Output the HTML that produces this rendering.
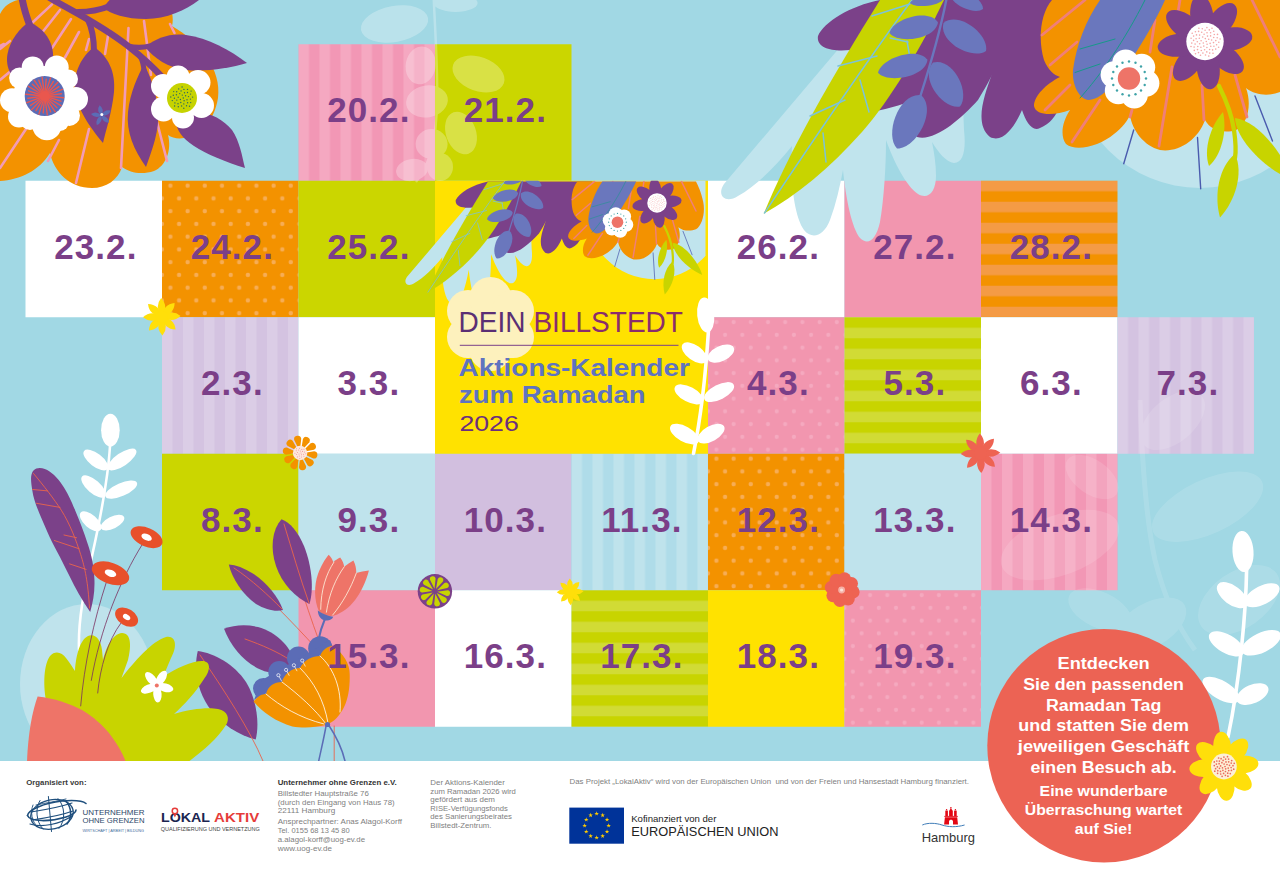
<!DOCTYPE html>
<html lang="de">
<head>
<meta charset="utf-8">
<title>Dein Billstedt – Aktions-Kalender zum Ramadan 2026</title>
<style>
html,body{margin:0;padding:0;background:#a1d8e4;}
body{width:1280px;height:871px;overflow:hidden;font-family:"Liberation Sans",sans-serif;}
svg{display:block;position:absolute;left:0;top:0;}
svg text{font-family:"Liberation Sans",sans-serif;}
.date text{font-weight:700;font-size:35px;fill:#7b3f88;letter-spacing:1.1px;}
</style>
</head>
<body>
<svg width="1280" height="871" viewBox="0 0 1280 871">
<defs>
<pattern id="pPinkV" width="21" height="21" patternUnits="userSpaceOnUse">
 <rect width="21" height="21" fill="#f5a8c1"/><rect x="10.5" width="10.5" height="21" fill="#f297b5"/>
</pattern>
<pattern id="pLilV" width="21" height="21" patternUnits="userSpaceOnUse">
 <rect width="21" height="21" fill="#dbcde6"/><rect x="10.5" width="10.5" height="21" fill="#d4c3e1"/>
</pattern>
<pattern id="pBlueV" width="21" height="21" patternUnits="userSpaceOnUse">
 <rect width="21" height="21" fill="#bfe3ec"/><rect x="10.5" width="10.5" height="21" fill="#afdce9"/>
</pattern>
<pattern id="pOrH" width="21" height="21" patternUnits="userSpaceOnUse">
 <rect width="21" height="21" fill="#f49b45"/><rect y="10.5" width="21" height="10.5" fill="#f39200"/>
</pattern>
<pattern id="pGrH" width="21" height="21" patternUnits="userSpaceOnUse">
 <rect width="21" height="21" fill="#c8d400"/><rect y="10.5" width="21" height="10.5" fill="#d1db35"/>
</pattern>
<pattern id="pOrDot" width="17.2" height="25.5" patternUnits="userSpaceOnUse">
 <rect width="17.2" height="25.5" fill="#f39200"/>
 <circle cx="8.4" cy="4.9" r="2.2" fill="#f7ad55"/><circle cx="17.1" cy="17.65" r="2.2" fill="#f7ad55"/><circle cx="-0.1" cy="17.6" r="2.2" fill="#f7ad55"/>
</pattern>
<pattern id="pPinkDot" width="17.2" height="25.5" patternUnits="userSpaceOnUse">
 <rect width="17.2" height="25.5" fill="#f296af"/>
 <circle cx="8.4" cy="4.9" r="2.1" fill="#f5a9bf"/><circle cx="17.1" cy="17.65" r="2.1" fill="#f5a9bf"/><circle cx="-0.1" cy="17.6" r="2.1" fill="#f5a9bf"/>
</pattern>
</defs>
<rect width="1280" height="871" fill="#a1d8e4"/>
<g id="cells">
<g transform="translate(298.50 44.25)"><rect width="136.5" height="136.5" fill="url(#pPinkV)"/></g>
<rect x="435.00" y="44.25" width="136.5" height="136.5" fill="#cbd600"/>
<rect x="25.50" y="180.75" width="136.5" height="136.5" fill="#ffffff"/>
<g transform="translate(162.00 180.75)"><rect width="136.5" height="136.5" fill="url(#pOrDot)"/></g>
<rect x="298.50" y="180.75" width="136.5" height="136.5" fill="#cbd600"/>
<rect x="708.00" y="180.75" width="136.5" height="136.5" fill="#ffffff"/>
<rect x="844.50" y="180.75" width="136.5" height="136.5" fill="#f296af"/>
<g transform="translate(981.00 180.75)"><rect width="136.5" height="136.5" fill="url(#pOrH)"/></g>
<g transform="translate(162.00 317.25)"><rect width="136.5" height="136.5" fill="url(#pLilV)"/></g>
<rect x="298.50" y="317.25" width="136.5" height="136.5" fill="#ffffff"/>
<g transform="translate(708.00 317.25)"><rect width="136.5" height="136.5" fill="url(#pPinkDot)"/></g>
<g transform="translate(844.50 317.25)"><rect width="136.5" height="136.5" fill="url(#pGrH)"/></g>
<rect x="981.00" y="317.25" width="136.5" height="136.5" fill="#ffffff"/>
<g transform="translate(1117.50 317.25)"><rect width="136.5" height="136.5" fill="url(#pLilV)"/></g>
<rect x="162.00" y="453.75" width="136.5" height="136.5" fill="#cbd600"/>
<rect x="298.50" y="453.75" width="136.5" height="136.5" fill="#bfe3ec"/>
<rect x="435.00" y="453.75" width="136.5" height="136.5" fill="#d2bfdf"/>
<g transform="translate(571.50 453.75)"><rect width="136.5" height="136.5" fill="url(#pBlueV)"/></g>
<g transform="translate(708.00 453.75)"><rect width="136.5" height="136.5" fill="url(#pOrDot)"/></g>
<rect x="844.50" y="453.75" width="136.5" height="136.5" fill="#bfe3ec"/>
<g transform="translate(981.00 453.75)"><rect width="136.5" height="136.5" fill="url(#pPinkV)"/></g>
<rect x="298.50" y="590.25" width="136.5" height="136.5" fill="#f296af"/>
<rect x="435.00" y="590.25" width="136.5" height="136.5" fill="#ffffff"/>
<g transform="translate(571.50 590.25)"><rect width="136.5" height="136.5" fill="url(#pGrH)"/></g>
<rect x="708.00" y="590.25" width="136.5" height="136.5" fill="#ffe200"/>
<g transform="translate(844.50 590.25)"><rect width="136.5" height="136.5" fill="url(#pPinkDot)"/></g>
<rect x="435.00" y="180.75" width="273.0" height="273.0" fill="#ffe200"/>
</g>
<g id="bgleaves" fill="#fff" opacity="0.12">
<ellipse cx="1172.7" cy="420.4" rx="38" ry="22" transform="rotate(-40 1172.7 420.4)"/>
<ellipse cx="1092" cy="477" rx="30" ry="17" transform="rotate(35 1092 477)"/>
<ellipse cx="1207.6" cy="506.8" rx="60" ry="27" transform="rotate(-25 1207.6 506.8)"/>
<ellipse cx="1060" cy="545" rx="62" ry="30" transform="rotate(-20 1060 545)"/>
<ellipse cx="1239" cy="600" rx="46" ry="28" transform="rotate(-35 1239 600)"/>
<ellipse cx="1150" cy="625" rx="40" ry="22" transform="rotate(-30 1150 625)"/>
<ellipse cx="1100" cy="610" rx="34" ry="18" transform="rotate(25 1100 610)"/>
<path d="M1140 400C1142 460 1146 520 1155 560C1165 600 1180 630 1195 650" fill="none" stroke="#fff" stroke-width="5"/>
</g>
<g id="bgtop" fill="#fff" opacity="0.27">
<path d="M433.8 0C436 50 440 100 434 140C430 160 424 172 416 182" fill="none" stroke="#fff" stroke-width="2.5"/>
<ellipse cx="394.5" cy="24" rx="34" ry="18" transform="rotate(-10 394.5 24)"/>
<ellipse cx="455.6" cy="3" rx="22" ry="9" transform="rotate(0 455.6 3)"/>
<ellipse cx="478.5" cy="74" rx="27" ry="17" transform="rotate(20 478.5 74)"/>
<ellipse cx="420.7" cy="65.4" rx="15" ry="19" transform="rotate(10 420.7 65.4)"/>
<ellipse cx="427" cy="101.4" rx="21" ry="16" transform="rotate(-10 427 101.4)"/>
<ellipse cx="461" cy="133" rx="15" ry="22" transform="rotate(-20 461 133)"/>
<ellipse cx="431.6" cy="144" rx="16" ry="15" transform="rotate(0 431.6 144)"/>
<ellipse cx="412" cy="170" rx="16" ry="11" transform="rotate(-10 412 170)"/>
<ellipse cx="440" cy="167" rx="13" ry="14" transform="rotate(0 440 167)"/>
</g>
<g id="flora-tl">
<path d="M0 14C4 6 10 2 18 0L166 0C172 8 174 18 172 26C200 42 222 70 218 98C214 122 200 136 184 138C178 139 172 138 168 135C172 150 166 166 154 171C142 175 130 173 122 167C118 180 106 188 92 188C70 188 54 172 50 153C40 170 20 180 0 181Z" fill="#f39200" />
<line x1="32.5" y1="22.5" x2="52.0" y2="4.4" stroke="#f29bb6" stroke-width="2.6" stroke-linecap="round" />
<line x1="41.0" y1="34.0" x2="60.0" y2="10.0" stroke="#f29bb6" stroke-width="2.6" stroke-linecap="round" />
<line x1="52.0" y1="48.0" x2="71.0" y2="19.0" stroke="#f29bb6" stroke-width="2.6" stroke-linecap="round" />
<line x1="65.0" y1="57.5" x2="79.0" y2="32.0" stroke="#f29bb6" stroke-width="2.6" stroke-linecap="round" />
<line x1="0.0" y1="49.0" x2="10.0" y2="41.0" stroke="#f29bb6" stroke-width="2.6" stroke-linecap="round" />
<line x1="0.0" y1="80.0" x2="12.0" y2="70.0" stroke="#f29bb6" stroke-width="2.6" stroke-linecap="round" />
<line x1="86.0" y1="50.0" x2="89.0" y2="39.0" stroke="#f29bb6" stroke-width="2.6" stroke-linecap="round" />
<line x1="105.0" y1="54.0" x2="109.0" y2="30.0" stroke="#f29bb6" stroke-width="2.6" stroke-linecap="round" />
<line x1="128.5" y1="28.0" x2="121.0" y2="168.0" stroke="#f29bb6" stroke-width="2.6" stroke-linecap="round" />
<line x1="144.0" y1="21.0" x2="151.0" y2="75.0" stroke="#f29bb6" stroke-width="2.6" stroke-linecap="round" />
<line x1="157.0" y1="122.0" x2="167.0" y2="161.0" stroke="#f29bb6" stroke-width="2.6" stroke-linecap="round" />
<line x1="0.0" y1="168.0" x2="28.0" y2="126.0" stroke="#f29bb6" stroke-width="2.6" stroke-linecap="round" />
<line x1="48.0" y1="161.0" x2="59.0" y2="140.0" stroke="#f29bb6" stroke-width="2.6" stroke-linecap="round" />
<line x1="76.0" y1="183.0" x2="89.0" y2="129.0" stroke="#f29bb6" stroke-width="2.6" stroke-linecap="round" />
<line x1="170.0" y1="24.0" x2="174.5" y2="33.0" stroke="#f29bb6" stroke-width="2.6" stroke-linecap="round" />
<line x1="0.0" y1="46.0" x2="4.0" y2="44.0" stroke="#f29bb6" stroke-width="2.6" stroke-linecap="round" />
<path d="M22 -2C24 10 27 18 30 26" fill="none" stroke="#7b4189" stroke-width="7" stroke-linecap="round" stroke-linejoin="round" />
<path d="M50 -2C70 10 100 24 128 46C142 57 154 68 163 78" fill="none" stroke="#7b4189" stroke-width="6.5" stroke-linecap="round" stroke-linejoin="round" />
<path d="M78 12C90 12 100 10 110 6" fill="none" stroke="#7b4189" stroke-width="6" stroke-linecap="round" stroke-linejoin="round" />
<path d="M88 20C93 30 94 40 94 52" fill="none" stroke="#7b4189" stroke-width="6" stroke-linecap="round" stroke-linejoin="round" />
<path d="M128 46C136 48 142 48 150 46" fill="none" stroke="#7b4189" stroke-width="5" stroke-linecap="round" stroke-linejoin="round" />
<path d="M140 56C143 62 144 66 144 72" fill="none" stroke="#7b4189" stroke-width="5" stroke-linecap="round" stroke-linejoin="round" />
<path d="M29 22C44 28 54 42 53 58C52 72 40 82 26 82C12 82 5 68 7.5 54C10 40 20 28 29 22Z" fill="#7b4189" />
<path d="M94 47C108 56 116 72 114 92C112 112 106 130 103 143C94 132 78 112 75 92C73 72 82 56 94 47Z" fill="#7b4189" />
<path d="M144 64C150 76 156 90 158 110C160 130 152 150 146 167C134 150 126 132 128 112C130 92 138 76 144 64Z" fill="#7b4189" />
<path d="M104 8C108 -4 130 -14 160 -14C176 -14 190 -8 199 0C186 10 166 19 146 19C126 19 110 14 104 8Z" fill="#7b4189" />
<path d="M145 47C156 38 170 33 186 35C208 38 230 50 247 63C230 68 206 72 186 70C168 68 154 58 145 47Z" fill="#7b4189" />
<path d="M176 120C196 104 220 116 232 130C240 142 242 156 245 168C226 162 206 154 194 146C182 138 176 130 176 120Z" fill="#7b4189" />
<g fill="#fff"><circle cx="44" cy="97" r="31"/><circle cx="32.7" cy="67.4" r="11"/><circle cx="56.7" cy="67.4" r="12"/><circle cx="68.5" cy="79" r="9.5"/><circle cx="76" cy="99.1" r="12"/><circle cx="69.5" cy="115.4" r="10.5"/><circle cx="46.9" cy="125.8" r="14.5"/><circle cx="19" cy="116.5" r="11"/><circle cx="12" cy="100.2" r="12"/><circle cx="19.6" cy="78" r="10.5"/><circle cx="30" cy="120" r="10"/><circle cx="60" cy="122" r="9"/></g>
<circle cx="44.7" cy="96" r="20" fill="#5b6cb6"/>
<g stroke="#e9574e" stroke-width="1.4" stroke-linecap="round"><line x1="44.7" y1="96" x2="63.6" y2="97.7"/><line x1="44.7" y1="96" x2="60.9" y2="101.2"/><line x1="44.7" y1="96" x2="61.0" y2="105.7"/><line x1="44.7" y1="96" x2="57.0" y2="107.7"/><line x1="44.7" y1="96" x2="55.2" y2="111.8"/><line x1="44.7" y1="96" x2="50.7" y2="111.9"/><line x1="44.7" y1="96" x2="47.3" y2="114.8"/><line x1="44.7" y1="96" x2="43.2" y2="112.9"/><line x1="44.7" y1="96" x2="38.9" y2="114.1"/><line x1="44.7" y1="96" x2="36.0" y2="110.6"/><line x1="44.7" y1="96" x2="31.6" y2="109.8"/><line x1="44.7" y1="96" x2="30.5" y2="105.4"/><line x1="44.7" y1="96" x2="26.9" y2="102.7"/><line x1="44.7" y1="96" x2="27.9" y2="98.3"/><line x1="44.7" y1="96" x2="25.8" y2="94.3"/><line x1="44.7" y1="96" x2="28.5" y2="90.8"/><line x1="44.7" y1="96" x2="28.4" y2="86.3"/><line x1="44.7" y1="96" x2="32.4" y2="84.3"/><line x1="44.7" y1="96" x2="34.2" y2="80.2"/><line x1="44.7" y1="96" x2="38.7" y2="80.1"/><line x1="44.7" y1="96" x2="42.1" y2="77.2"/><line x1="44.7" y1="96" x2="46.2" y2="79.1"/><line x1="44.7" y1="96" x2="50.5" y2="77.9"/><line x1="44.7" y1="96" x2="53.4" y2="81.4"/><line x1="44.7" y1="96" x2="57.8" y2="82.2"/><line x1="44.7" y1="96" x2="58.9" y2="86.6"/><line x1="44.7" y1="96" x2="62.5" y2="89.3"/><line x1="44.7" y1="96" x2="61.5" y2="93.7"/></g>
<circle cx="44.7" cy="96" r="5" fill="#e9574e"/>
<g fill="#fff"><circle cx="182" cy="97.5" r="21"/><circle cx="178.1" cy="77" r="11.5"/><circle cx="198" cy="82.5" r="12.5"/><circle cx="201.5" cy="105.5" r="12.5"/><circle cx="183" cy="117.5" r="11"/><circle cx="163.5" cy="109" r="12.5"/><circle cx="163" cy="86" r="12"/></g>
<circle cx="182" cy="98" r="15" fill="#c6d300"/>
<g fill="#2f6b5e"><circle cx="183.3" cy="98.0" r="0.7"/><circle cx="180.4" cy="99.5" r="0.7"/><circle cx="182.3" cy="95.1" r="0.7"/><circle cx="184.1" cy="100.7" r="0.7"/><circle cx="178.2" cy="97.3" r="0.7"/><circle cx="185.6" cy="95.7" r="0.7"/><circle cx="180.8" cy="102.5" r="0.7"/><circle cx="179.7" cy="93.6" r="0.7"/><circle cx="187.0" cy="99.8" r="0.7"/><circle cx="176.8" cy="100.1" r="0.7"/><circle cx="184.5" cy="92.7" r="0.7"/><circle cx="183.8" cy="103.9" r="0.7"/><circle cx="176.4" cy="94.8" r="0.7"/><circle cx="188.5" cy="96.6" r="0.7"/><circle cx="178.0" cy="103.7" r="0.7"/><circle cx="181.1" cy="90.9" r="0.7"/><circle cx="187.6" cy="102.8" r="0.7"/><circle cx="174.4" cy="98.3" r="0.7"/><circle cx="187.5" cy="92.5" r="0.7"/><circle cx="181.6" cy="106.0" r="0.7"/><circle cx="176.7" cy="91.7" r="0.7"/><circle cx="190.4" cy="99.1" r="0.7"/><circle cx="174.9" cy="102.9" r="0.7"/><circle cx="183.9" cy="89.4" r="0.7"/><circle cx="186.5" cy="105.8" r="0.7"/><circle cx="173.3" cy="95.2" r="0.7"/><circle cx="190.5" cy="94.1" r="0.7"/><circle cx="178.3" cy="106.8" r="0.7"/><circle cx="178.7" cy="88.9" r="0.7"/><circle cx="190.7" cy="102.6" r="0.7"/><circle cx="172.3" cy="100.6" r="0.7"/><circle cx="187.5" cy="89.4" r="0.7"/><circle cx="183.8" cy="108.2" r="0.7"/><circle cx="173.7" cy="91.6" r="0.7"/><circle cx="192.6" cy="97.1" r="0.7"/><circle cx="174.6" cy="106.0" r="0.7"/><circle cx="182.1" cy="87.0" r="0.7"/><circle cx="189.5" cy="106.2" r="0.7"/><circle cx="170.8" cy="97.0" r="0.7"/><circle cx="191.1" cy="91.1" r="0.7"/></g>
<g fill="#5b6cb6" ><path d="M101.4 115.5Q107.2 111.0 111.9 115.5Q107.2 120.0 101.4 115.5Z" transform="rotate(-100.0 101.4 115.5)"/><path d="M101.4 115.5Q107.2 111.0 111.9 115.5Q107.2 120.0 101.4 115.5Z" transform="rotate(-28.0 101.4 115.5)"/><path d="M101.4 115.5Q107.2 111.0 111.9 115.5Q107.2 120.0 101.4 115.5Z" transform="rotate(44.0 101.4 115.5)"/><path d="M101.4 115.5Q107.2 111.0 111.9 115.5Q107.2 120.0 101.4 115.5Z" transform="rotate(116.0 101.4 115.5)"/><path d="M101.4 115.5Q107.2 111.0 111.9 115.5Q107.2 120.0 101.4 115.5Z" transform="rotate(188.0 101.4 115.5)"/></g>
<circle cx="101.8" cy="114.5" r="1.5" fill="#fff"/>
</g>
<g id="trart">
<path d="M846 40L724 184C716 196 726 204 738 196C756 186 776 166 792 146C790 180 794 216 804 230C812 240 824 236 830 220C836 204 840 186 843 170C846 200 852 228 860 238C868 246 876 240 880 222C884 198 886 166 886 140C894 162 906 186 918 194C928 200 936 192 936 176C936 164 934 152 932 142C938 152 946 162 954 163C964 163 966 148 964 130L960 30Z" fill="#c0e4ed" />
<circle cx="1200" cy="58" r="130" fill="#c0e4ed"/>
<path d="M880 0C850 6 824 22 818 36C816 48 832 52 850 50L872 112C890 108 908 104 920 96C912 112 908 130 917 137C934 142 960 120 978 100C984 90 990 80 992 74C984 96 974 124 990 137C1004 144 1016 124 1022 110C1026 122 1032 132 1040 128C1050 124 1056 116 1060 106L1080 0Z" fill="#7b4189" />
<path d="M763.7 213.7C790 150 830 80 880 0L944 0C920 50 890 100 862 132C830 168 796 196 763.7 213.7Z" fill="#c8d400" />
<path d="M764.5 213C800 160 860 70 912 0" fill="none" stroke="#7cc3d8" stroke-width="1.5" stroke-linecap="round" stroke-linejoin="round" />
<line x1="823.0" y1="133.0" x2="826.0" y2="162.0" stroke="#7cc3d8" stroke-width="1.5" stroke-linecap="round" />
<line x1="845.0" y1="100.0" x2="810.0" y2="116.0" stroke="#7cc3d8" stroke-width="1.5" stroke-linecap="round" />
<line x1="860.0" y1="80.0" x2="869.0" y2="112.0" stroke="#7cc3d8" stroke-width="1.5" stroke-linecap="round" />
<line x1="877.0" y1="56.0" x2="838.0" y2="66.0" stroke="#7cc3d8" stroke-width="1.5" stroke-linecap="round" />
<line x1="890.0" y1="38.0" x2="908.0" y2="42.0" stroke="#7cc3d8" stroke-width="1.5" stroke-linecap="round" />
<line x1="907.0" y1="41.0" x2="910.0" y2="58.0" stroke="#7cc3d8" stroke-width="1.5" stroke-linecap="round" />
<line x1="910.0" y1="4.0" x2="872.0" y2="16.0" stroke="#7cc3d8" stroke-width="1.5" stroke-linecap="round" />
<path d="M946.5 -1C940 32 930 66 920.7 95" fill="none" stroke="#6a77bd" stroke-width="2.4" stroke-linecap="round" stroke-linejoin="round" />
<path d="M938.0 22.3C928.7 7.7 892.5 18.9 889.5 33.0C898.1 44.5 935.7 39.5 938.0 22.3Z" fill="#6a77bd" />
<path d="M943.5 23.0C938.2 42.1 972.5 60.4 986.0 51.0C989.3 34.9 959.0 10.6 943.5 23.0Z" fill="#6a77bd" />
<path d="M927.5 59.8C917.4 45.6 880.6 58.5 878.0 72.8C887.3 83.9 925.7 77.1 927.5 59.8Z" fill="#6a77bd" />
<path d="M933.0 62.5C919.1 78.3 942.9 109.7 960.0 106.5C970.6 92.7 953.4 57.2 933.0 62.5Z" fill="#6a77bd" />
<path d="M921.0 95.0C898.5 92.6 884.1 135.0 897.0 148.5C915.7 149.2 937.7 110.2 921.0 95.0Z" fill="#6a77bd" />
<path d="M944.0 -2.0C938.8 -9.1 913.2 -3.8 910.0 3.0C915.0 8.6 941.1 6.3 944.0 -2.0Z" fill="#6a77bd" />
<path d="M950.0 -8.0C948.6 4.4 974.7 15.4 983.0 9.0C983.4 -1.4 959.3 -16.4 950.0 -8.0Z" fill="#6a77bd" />
<path d="M1052 0C1040 14 1038 40 1044 60C1048 70 1054 75 1060 77C1046 84 1034 96 1034 106C1036 116 1054 116 1070 110C1062 122 1060 136 1066 144C1076 152 1100 146 1114 134C1122 128 1128 120 1130 115C1132 130 1144 146 1160 150C1178 153 1198 140 1205 120C1210 130 1224 134 1236 130C1248 124 1252 104 1246 88C1256 96 1270 96 1280 92C1292 84 1298 60 1294 40C1290 20 1284 8 1280 0Z" fill="#f39200" />
<line x1="1085.0" y1="0.0" x2="1042.0" y2="35.0" stroke="#f07f78" stroke-width="2.8" stroke-linecap="round" />
<line x1="1077.0" y1="42.0" x2="1050.0" y2="65.0" stroke="#f07f78" stroke-width="2.8" stroke-linecap="round" />
<line x1="1070.0" y1="85.0" x2="1045.0" y2="110.0" stroke="#f07f78" stroke-width="2.8" stroke-linecap="round" />
<line x1="1100.0" y1="100.0" x2="1072.0" y2="142.0" stroke="#f07f78" stroke-width="2.8" stroke-linecap="round" />
<line x1="1132.0" y1="110.0" x2="1130.0" y2="117.0" stroke="#f07f78" stroke-width="2.8" stroke-linecap="round" />
<line x1="1172.0" y1="67.0" x2="1159.0" y2="146.0" stroke="#f07f78" stroke-width="2.8" stroke-linecap="round" />
<line x1="1202.0" y1="85.0" x2="1204.0" y2="120.0" stroke="#f07f78" stroke-width="2.8" stroke-linecap="round" />
<line x1="1155.0" y1="20.0" x2="1150.0" y2="52.0" stroke="#f07f78" stroke-width="2.8" stroke-linecap="round" />
<line x1="1235.0" y1="75.0" x2="1247.0" y2="117.0" stroke="#f07f78" stroke-width="2.8" stroke-linecap="round" />
<line x1="1252.0" y1="0.0" x2="1280.0" y2="57.0" stroke="#f07f78" stroke-width="2.8" stroke-linecap="round" />
<line x1="1120.0" y1="0.0" x2="1112.0" y2="20.0" stroke="#f07f78" stroke-width="2.8" stroke-linecap="round" />
<line x1="1180.0" y1="0.0" x2="1178.0" y2="12.0" stroke="#f07f78" stroke-width="2.8" stroke-linecap="round" />
<line x1="1133.7" y1="130.0" x2="1123.7" y2="163.7" stroke="#4a5bae" stroke-width="1.4" stroke-linecap="round" />
<line x1="1197.5" y1="137.5" x2="1200.7" y2="188.7" stroke="#4a5bae" stroke-width="1.4" stroke-linecap="round" />
<line x1="1255.0" y1="96.0" x2="1272.5" y2="141.0" stroke="#4a5bae" stroke-width="1.4" stroke-linecap="round" />
<path d="M1100 0C1086 20 1076 46 1073 70C1072 84 1078 98 1088 100C1100 100 1114 86 1130 62C1144 40 1156 20 1165 0Z" fill="#6a77bd" />
<path d="M1145 0C1125 40 1100 76 1080 98" fill="none" stroke="#17998a" stroke-width="1" stroke-linecap="round" stroke-linejoin="round" />
<line x1="1115.0" y1="39.0" x2="1080.0" y2="49.0" stroke="#17998a" stroke-width="1" stroke-linecap="round" />
<line x1="1100.0" y1="64.0" x2="1075.0" y2="72.5" stroke="#17998a" stroke-width="1" stroke-linecap="round" />
<path d="M1219 86C1226 100 1232 116 1234 130C1236 144 1236 152 1235 158" fill="none" stroke="#c8d400" stroke-width="4.3" stroke-linecap="round" stroke-linejoin="round" />
<path d="M1209.0 166.0C1221.8 154.9 1227.3 130.4 1223.0 112.0C1210.3 126.0 1203.2 150.1 1209.0 166.0Z" fill="#c8d400" />
<path d="M1235.0 118.0C1235.9 140.1 1266.0 169.6 1292.0 180.0C1283.8 153.2 1256.9 120.7 1235.0 118.0Z" fill="#c8d400" />
<path d="M1235.0 154.0C1218.6 166.9 1213.8 195.9 1220.0 217.5C1235.2 201.0 1243.9 172.9 1235.0 154.0Z" fill="#c8d400" />
<g fill="#fff" ><circle cx="1130.0" cy="79.0" r="20.0"/><circle cx="1145.9" cy="83.3" r="13.5"/><circle cx="1134.3" cy="94.9" r="13.5"/><circle cx="1118.3" cy="90.7" r="13.5"/><circle cx="1114.1" cy="74.7" r="13.5"/><circle cx="1125.7" cy="63.1" r="13.5"/><circle cx="1141.7" cy="67.3" r="13.5"/></g>
<circle cx="1129" cy="78.5" r="11.2" fill="#ee7468"/>
<g fill="#3fa3a8"><circle cx="1146.0" cy="78.5" r="1.2"/><circle cx="1144.7" cy="85.0" r="1.2"/><circle cx="1141.0" cy="90.5" r="1.2"/><circle cx="1135.5" cy="94.2" r="1.2"/><circle cx="1129.0" cy="95.5" r="1.2"/><circle cx="1122.5" cy="94.2" r="1.2"/><circle cx="1117.0" cy="90.5" r="1.2"/><circle cx="1113.3" cy="85.0" r="1.2"/><circle cx="1112.0" cy="78.5" r="1.2"/><circle cx="1113.3" cy="72.0" r="1.2"/><circle cx="1117.0" cy="66.5" r="1.2"/><circle cx="1122.5" cy="62.8" r="1.2"/><circle cx="1129.0" cy="61.5" r="1.2"/><circle cx="1135.5" cy="62.8" r="1.2"/><circle cx="1141.0" cy="66.5" r="1.2"/><circle cx="1144.7" cy="72.0" r="1.2"/></g>
<g fill="#7b4189" ><ellipse cx="1230.8" cy="42.0" rx="21.8" ry="11.5" transform="rotate(-7.0 1205.0 42.0)"/><ellipse cx="1230.8" cy="42.0" rx="21.8" ry="11.5" transform="rotate(38.0 1205.0 42.0)"/><ellipse cx="1230.8" cy="42.0" rx="21.8" ry="11.5" transform="rotate(83.0 1205.0 42.0)"/><ellipse cx="1230.8" cy="42.0" rx="21.8" ry="11.5" transform="rotate(128.0 1205.0 42.0)"/><ellipse cx="1230.8" cy="42.0" rx="21.8" ry="11.5" transform="rotate(173.0 1205.0 42.0)"/><ellipse cx="1230.8" cy="42.0" rx="21.8" ry="11.5" transform="rotate(218.0 1205.0 42.0)"/><ellipse cx="1230.8" cy="42.0" rx="21.8" ry="11.5" transform="rotate(263.0 1205.0 42.0)"/><ellipse cx="1230.8" cy="42.0" rx="21.8" ry="11.5" transform="rotate(308.0 1205.0 42.0)"/></g>
<circle cx="1205" cy="41.5" r="18.7" fill="#fff"/>
<g fill="#f4a6a6"><circle cx="1206.3" cy="41.5" r="0.8"/><circle cx="1203.3" cy="43.0" r="0.8"/><circle cx="1205.3" cy="38.6" r="0.8"/><circle cx="1207.1" cy="44.3" r="0.8"/><circle cx="1201.1" cy="40.8" r="0.8"/><circle cx="1208.7" cy="39.2" r="0.8"/><circle cx="1203.8" cy="46.1" r="0.8"/><circle cx="1202.7" cy="37.0" r="0.8"/><circle cx="1210.1" cy="43.4" r="0.8"/><circle cx="1199.7" cy="43.7" r="0.8"/><circle cx="1207.5" cy="36.1" r="0.8"/><circle cx="1206.9" cy="47.5" r="0.8"/><circle cx="1199.3" cy="38.2" r="0.8"/><circle cx="1211.6" cy="40.0" r="0.8"/><circle cx="1200.9" cy="47.3" r="0.8"/><circle cx="1204.1" cy="34.3" r="0.8"/><circle cx="1210.8" cy="46.3" r="0.8"/><circle cx="1197.3" cy="41.8" r="0.8"/><circle cx="1210.6" cy="35.9" r="0.8"/><circle cx="1204.6" cy="49.7" r="0.8"/><circle cx="1199.6" cy="35.1" r="0.8"/><circle cx="1213.5" cy="42.6" r="0.8"/><circle cx="1197.8" cy="46.5" r="0.8"/><circle cx="1207.0" cy="32.7" r="0.8"/><circle cx="1209.6" cy="49.5" r="0.8"/><circle cx="1196.1" cy="38.7" r="0.8"/><circle cx="1213.7" cy="37.5" r="0.8"/><circle cx="1201.3" cy="50.5" r="0.8"/><circle cx="1201.7" cy="32.2" r="0.8"/><circle cx="1213.9" cy="46.2" r="0.8"/><circle cx="1195.1" cy="44.1" r="0.8"/><circle cx="1210.6" cy="32.8" r="0.8"/><circle cx="1206.8" cy="51.9" r="0.8"/><circle cx="1196.5" cy="34.9" r="0.8"/><circle cx="1215.8" cy="40.6" r="0.8"/><circle cx="1197.5" cy="49.6" r="0.8"/><circle cx="1205.1" cy="30.3" r="0.8"/><circle cx="1212.6" cy="49.9" r="0.8"/><circle cx="1193.6" cy="40.4" r="0.8"/><circle cx="1214.3" cy="34.5" r="0.8"/><circle cx="1202.9" cy="53.1" r="0.8"/><circle cx="1198.6" cy="31.4" r="0.8"/><circle cx="1216.6" cy="44.7" r="0.8"/><circle cx="1194.1" cy="47.1" r="0.8"/><circle cx="1209.3" cy="29.9" r="0.8"/><circle cx="1209.7" cy="53.1" r="0.8"/><circle cx="1193.6" cy="36.1" r="0.8"/><circle cx="1217.2" cy="37.7" r="0.8"/><circle cx="1198.5" cy="52.6" r="0.8"/><circle cx="1202.3" cy="28.8" r="0.8"/><circle cx="1215.7" cy="49.1" r="0.8"/><circle cx="1191.8" cy="43.1" r="0.8"/><circle cx="1213.7" cy="31.3" r="0.8"/><circle cx="1205.5" cy="55.0" r="0.8"/><circle cx="1195.4" cy="31.8" r="0.8"/><circle cx="1218.8" cy="42.2" r="0.8"/><circle cx="1194.3" cy="50.4" r="0.8"/><circle cx="1206.9" cy="27.6" r="0.8"/><circle cx="1213.0" cy="53.2" r="0.8"/><circle cx="1191.1" cy="38.3" r="0.8"/><circle cx="1217.5" cy="34.4" r="0.8"/><circle cx="1200.5" cy="55.3" r="0.8"/><circle cx="1198.9" cy="28.2" r="0.8"/><circle cx="1218.6" cy="47.3" r="0.8"/><circle cx="1191.0" cy="46.5" r="0.8"/><circle cx="1212.0" cy="28.3" r="0.8"/><circle cx="1208.8" cy="56.1" r="0.8"/><circle cx="1192.2" cy="33.2" r="0.8"/><circle cx="1220.1" cy="39.0" r="0.8"/><circle cx="1195.5" cy="53.7" r="0.8"/></g>
</g>
<clipPath id="cclip"><rect x="395" y="180.75" width="310.5" height="150"/></clipPath>
<g clip-path="url(#cclip)"><use href="#trart" transform="translate(30.4,181.4) scale(0.52)"/></g>
<g id="flora-center">
<g fill="#fdf1bd" ><circle cx="490.5" cy="324.0" r="30.0"/><circle cx="513.0" cy="337.0" r="21.0"/><circle cx="490.5" cy="350.0" r="21.0"/><circle cx="468.0" cy="337.0" r="21.0"/><circle cx="468.0" cy="311.0" r="21.0"/><circle cx="490.5" cy="298.0" r="21.0"/><circle cx="513.0" cy="311.0" r="21.0"/></g>
<path d="M708.5 330C706 370 702 412 693.5 453.5" fill="none" stroke="#fff" stroke-width="3.6" stroke-linecap="round" stroke-linejoin="round" />
<ellipse cx="705.7" cy="315" rx="8.5" ry="17.5" fill="#fff" transform="rotate(-6 705.7 315)"/>
<ellipse cx="694.5" cy="352.9" rx="14.7" ry="7.6" transform="rotate(35.5 694.5 352.9)" fill="#fff" />
<ellipse cx="720.9" cy="353.6" rx="14.2" ry="7.6" transform="rotate(-24.8 720.9 353.6)" fill="#fff" />
<ellipse cx="689.0" cy="394.4" rx="15.9" ry="7.6" transform="rotate(27.9 689.0 394.4)" fill="#fff" />
<ellipse cx="719.1" cy="392.1" rx="16.4" ry="7.5" transform="rotate(-26.8 719.1 392.1)" fill="#fff" />
<ellipse cx="684.5" cy="434.1" rx="16.1" ry="7.6" transform="rotate(29.4 684.5 434.1)" fill="#fff" />
<ellipse cx="711.0" cy="433.6" rx="15.0" ry="7.6" transform="rotate(-29.6 711.0 433.6)" fill="#fff" />
</g>
<g id="title">
<text x="458.6" y="332.2" font-size="28.8" textLength="224.4" lengthAdjust="spacingAndGlyphs"><tspan fill="#5b2f74">DEIN </tspan><tspan fill="#8a2d6c">BILLSTEDT</tspan></text>
<rect x="459.8" y="344.8" width="218.7" height="1" fill="#7b4189"/>
<text x="458.6" y="376" font-size="24.6" font-weight="700" fill="#5f73c0" textLength="231.2" lengthAdjust="spacingAndGlyphs">Aktions-Kalender</text>
<text x="459" y="403" font-size="24.6" font-weight="700" fill="#5f73c0" textLength="186.6" lengthAdjust="spacingAndGlyphs">zum Ramadan</text>
<text x="459.4" y="431.2" font-size="22" fill="#6b2f7e" textLength="59.4" lengthAdjust="spacingAndGlyphs">2026</text>
</g>
<g id="flora-bl">
<ellipse cx="87" cy="684" rx="67" ry="80" fill="#bfe3ec"/>
<path d="M110 446C108 480 100 520 92 556C84 590 78 620 79 650" fill="none" stroke="#fff" stroke-width="2.6" stroke-linecap="round" stroke-linejoin="round" />
<ellipse cx="110.4" cy="430.2" rx="9.3" ry="16.5" fill="#fff"/>
<ellipse cx="95.8" cy="460.0" rx="14.8" ry="6.5" transform="rotate(37.5 95.8 460.0)" fill="#fff" />
<ellipse cx="122.0" cy="459.5" rx="16.9" ry="6.5" transform="rotate(-34.2 122.0 459.5)" fill="#fff" />
<ellipse cx="93.5" cy="486.5" rx="15.2" ry="6.5" transform="rotate(41.0 93.5 486.5)" fill="#fff" />
<ellipse cx="121.2" cy="489.6" rx="17.2" ry="6.5" transform="rotate(-23.5 121.2 489.6)" fill="#fff" />
<ellipse cx="90.6" cy="521.3" rx="13.2" ry="6.5" transform="rotate(41.3 90.6 521.3)" fill="#fff" />
<ellipse cx="112.5" cy="522.6" rx="12.9" ry="6.0" transform="rotate(-27.0 112.5 522.6)" fill="#fff" />
<path d="M90.2 612.1C82 600 75 588 69.6 576.3C60 556 53 545 47.5 532.2C40 515 34 502 32.4 490.9C31 482 30 476 33 471C37 467 41 468 44.8 468.9C58 474 68 492 75.1 510.2C80 522 84 532 87.5 543.3C92 556 94 568 94.4 579C95 592 93 602 90.2 612.1Z" fill="#7b4189" />
<path d="M33.5 473.5C44 486 54 499 61.3 510.2C70 524 76 540 80.6 554.3C85 568 88 582 89.5 608" fill="none" stroke="#ea644c" stroke-width="0.9" stroke-linecap="round" stroke-linejoin="round" />
<line x1="32.6" y1="489.5" x2="47.5" y2="490.9" stroke="#ea644c" stroke-width="0.9" stroke-linecap="round" />
<line x1="36.5" y1="503.3" x2="60.0" y2="507.4" stroke="#ea644c" stroke-width="0.9" stroke-linecap="round" />
<line x1="54.4" y1="540.5" x2="79.2" y2="548.8" stroke="#ea644c" stroke-width="0.9" stroke-linecap="round" />
<line x1="64.0" y1="535.0" x2="76.5" y2="537.7" stroke="#ea644c" stroke-width="0.9" stroke-linecap="round" />
<line x1="69.6" y1="563.9" x2="86.1" y2="569.4" stroke="#ea644c" stroke-width="0.9" stroke-linecap="round" />
<path d="M197.8 651C194 666 196 688 208 706C220 724 240 736 255.7 739.5C260 722 256 698 246 682C234 664 214 653 197.8 651Z" fill="#7b4189" />
<path d="M200 655C224 690 250 730 263 761" fill="none" stroke="#ea644c" stroke-width="0.9" stroke-linecap="round" stroke-linejoin="round" />
<path d="M40 761L46 700C43 684 44 664 50 656C55 650 62 652 66 658C70 663 73 668 75 671C76 655 80 640 88 636C96 633 101 641 102 650L103 660C106 648 112 634 122 633C132 633 131 648 128 660L121.5 678C134 662 152 641 166 637C177 635 177 648 171 658L163 677C176 668 192 661 202 661C211 661 211 670 204 679C196 692 184 705 174 714C190 709 208 707 218 709C228 711 230 719 226 725C218 738 204 750 189.5 761Z" fill="#c8d400" />
<path d="M27 761C28 735 32 712 37.6 696.5C54 698 70 704 82 710C94 717 102 725 109 733C116 742 122 752 125.4 761Z" fill="#ee7468" />
<path d="M142.3 544.4C120 580 100 630 91.3 680.4" fill="none" stroke="#7b3060" stroke-width="0.8" stroke-linecap="round" stroke-linejoin="round" />
<path d="M106.2 582.7C94 620 84 665 80.7 705.9" fill="none" stroke="#7b3060" stroke-width="0.8" stroke-linecap="round" stroke-linejoin="round" />
<path d="M121 623C108 640 100 668 97.7 693" fill="none" stroke="#7b3060" stroke-width="0.8" stroke-linecap="round" stroke-linejoin="round" />
<ellipse cx="146.6" cy="537.2" rx="17" ry="9.3" transform="rotate(24 146.6 537.2)" fill="#e8502a"/><ellipse cx="146.6" cy="537.2" rx="5.5" ry="3.2" transform="rotate(24 146.6 537.2)" fill="#fff"/>
<ellipse cx="110.5" cy="573.3" rx="19.5" ry="10.5" transform="rotate(20 110.5 573.3)" fill="#e8502a"/><ellipse cx="110.5" cy="573.3" rx="6" ry="3.4" transform="rotate(20 110.5 573.3)" fill="#fff"/>
<ellipse cx="126.6" cy="617.1" rx="12.5" ry="8.3" transform="rotate(32 126.6 617.1)" fill="#e8502a"/><ellipse cx="126.6" cy="617.1" rx="4" ry="2.6" transform="rotate(32 126.6 617.1)" fill="#fff"/>
<g fill="#fff" ><ellipse cx="165.3" cy="685.5" rx="8.5" ry="4.2" transform="rotate(14.0 156.8 685.5)"/><ellipse cx="165.3" cy="685.5" rx="8.5" ry="4.2" transform="rotate(86.0 156.8 685.5)"/><ellipse cx="165.3" cy="685.5" rx="8.5" ry="4.2" transform="rotate(158.0 156.8 685.5)"/><ellipse cx="165.3" cy="685.5" rx="8.5" ry="4.2" transform="rotate(230.0 156.8 685.5)"/><ellipse cx="165.3" cy="685.5" rx="8.5" ry="4.2" transform="rotate(302.0 156.8 685.5)"/></g>
<circle cx="156.8" cy="685.5" r="2" fill="#ee7468"/>
<path d="M281.5 521C292 560 304 600 318.7 640" fill="none" stroke="#ea644c" stroke-width="0.9" stroke-linecap="round" stroke-linejoin="round" />
<path d="M232 567C262 590 292 622 316 648" fill="none" stroke="#ea644c" stroke-width="0.9" stroke-linecap="round" stroke-linejoin="round" />
<line x1="334.2" y1="726.0" x2="334.2" y2="761.0" stroke="#ea644c" stroke-width="0.9" stroke-linecap="round" />
<path d="M281.5 519.2C272 530 270 548 276 566C282 584 296 598 309.4 603.9C314 590 312 566 304 546C298 532 290 522 281.5 519.2Z" fill="#7b4189" />
<path d="M228.8 564.5C232 578 242 594 256 604C266 610 276 612 283 610C278 596 266 582 252 573C244 568 236 565 228.8 564.5Z" fill="#7b4189" />
<path d="M224 628.7C232 650 250 668 268 672C278 674 288 668 294 660C290 646 276 632 258 627C246 624 234 625 224 628.7Z" fill="#7b4189" />
<path d="M284 524C292 550 300 578 309 603" fill="none" stroke="#ea644c" stroke-width="0.9" stroke-linecap="round" stroke-linejoin="round" />
<path d="M234 568C252 580 268 595 282 609" fill="none" stroke="#ea644c" stroke-width="0.9" stroke-linecap="round" stroke-linejoin="round" />
<path d="M245 639C262 645 278 652 290 660" fill="none" stroke="#ea644c" stroke-width="0.9" stroke-linecap="round" stroke-linejoin="round" />
<path d="M324.9 619C322 626 320 632 318.7 639" fill="none" stroke="#5b6cb6" stroke-width="2" stroke-linecap="round" stroke-linejoin="round" />
<path d="M319 611.6C314 600 314 585 318 574C321 566 325 559 328.7 554.8C331 557 332.5 559.5 333.3 562.2C335 560.5 337.5 559 340.2 557.6C342.5 560.5 343.7 563.5 344.2 566.8C347 564.5 350 562.3 353.4 560.5C355.5 564.5 356.3 568.5 356.3 573.1C360 572 364.5 571 368.9 570.5C366 582 361 592 355.1 600.1C349 608 342 613 334.4 615.6C329 617 323 615 319 611.6Z" fill="#ee7468" />
<path d="M320.7 609.3C321 590 326 574 333.9 562.2M326.4 612.2C329 594 336 578 344.2 566.8M332.7 615C342 604 351 588 356.3 573.1" fill="none" stroke="#fce6d4" stroke-width="0.9" stroke-linecap="round" stroke-linejoin="round" />
<path d="M317.8 610.5C322 613.5 328 616 333.3 616.8C332 620 328.5 621 325.3 620.4C321 620 318 616 317.8 610.5Z" fill="#5b6cb6" />
<circle cx="263.5" cy="688.5" r="10.5" fill="#5b6cb6"/>
<circle cx="279.3" cy="672.1" r="11" fill="#5b6cb6"/>
<circle cx="298.5" cy="658.1" r="11.5" fill="#5b6cb6"/>
<circle cx="320.2" cy="648.2" r="12" fill="#5b6cb6"/>
<path d="M254 700L262 680L330 640L334 650Z" fill="#5b6cb6" />
<path d="M253.6 701.6C258 696 262 694 266 694C268 686 274 682 282 682C284 674 292 668 300 668C304 660 312 656 320 656C322 650 328 646 332.6 645.7C344 654 350 664 349.7 675C350 688 348 698 345 705C340 716 334 722 326.4 724.8C314 728 302 728 292.3 726.4C276 722 262 712 253.6 701.6Z" fill="#f39200" />
<path d="M266 694C280 706 300 718 324 724M282 682C298 694 316 710 326 724M300 668C314 682 324 700 328 723M320 656C334 668 342 690 340 712" fill="none" stroke="#fff" stroke-width="0.8" stroke-linecap="round" stroke-linejoin="round" />
<circle cx="278.4" cy="675.2" r="1.6" fill="none" stroke="#fff" stroke-width="0.7"/>
<line x1="279.2" y1="676.6" x2="281.4" y2="680.7" stroke="#fff" stroke-width="0.7" stroke-linecap="round" />
<circle cx="286.1" cy="669.9" r="1.6" fill="none" stroke="#fff" stroke-width="0.7"/>
<line x1="286.9" y1="671.3" x2="289.1" y2="675.4" stroke="#fff" stroke-width="0.7" stroke-linecap="round" />
<circle cx="293.9" cy="665.3" r="1.6" fill="none" stroke="#fff" stroke-width="0.7"/>
<line x1="294.7" y1="666.7" x2="296.9" y2="670.8" stroke="#fff" stroke-width="0.7" stroke-linecap="round" />
<circle cx="302.2" cy="660.6" r="1.6" fill="none" stroke="#fff" stroke-width="0.7"/>
<line x1="303.0" y1="662.0" x2="305.2" y2="666.1" stroke="#fff" stroke-width="0.7" stroke-linecap="round" />
<path d="M326.4 724C324 738 321 750 318.7 761M328 724C336 736 342 748 345 761" fill="none" stroke="#5b6cb6" stroke-width="1.5" stroke-linecap="round" stroke-linejoin="round" />
<circle cx="327.5" cy="724.5" r="2.6" fill="#5b6cb6"/>
</g>
<g id="flora-misc">
<g fill="#ffdf0a" ><path d="M161.8 316.7Q172.1 309.2 180.6 316.7Q172.1 324.2 161.8 316.7Z" transform="rotate(-2.0 161.8 316.7)"/><path d="M161.8 316.7Q172.1 309.2 180.6 316.7Q172.1 324.2 161.8 316.7Z" transform="rotate(43.0 161.8 316.7)"/><path d="M161.8 316.7Q172.1 309.2 180.6 316.7Q172.1 324.2 161.8 316.7Z" transform="rotate(88.0 161.8 316.7)"/><path d="M161.8 316.7Q172.1 309.2 180.6 316.7Q172.1 324.2 161.8 316.7Z" transform="rotate(133.0 161.8 316.7)"/><path d="M161.8 316.7Q172.1 309.2 180.6 316.7Q172.1 324.2 161.8 316.7Z" transform="rotate(178.0 161.8 316.7)"/><path d="M161.8 316.7Q172.1 309.2 180.6 316.7Q172.1 324.2 161.8 316.7Z" transform="rotate(223.0 161.8 316.7)"/><path d="M161.8 316.7Q172.1 309.2 180.6 316.7Q172.1 324.2 161.8 316.7Z" transform="rotate(268.0 161.8 316.7)"/><path d="M161.8 316.7Q172.1 309.2 180.6 316.7Q172.1 324.2 161.8 316.7Z" transform="rotate(313.0 161.8 316.7)"/></g>
<circle cx="161.8" cy="316.7" r="6" fill="#ffdf0a"/>
<g fill="#ffdf0a" ><path d="M570.2 591.8Q577.6 586.2 583.6 591.8Q577.6 597.4 570.2 591.8Z" transform="rotate(-2.0 570.2 591.8)"/><path d="M570.2 591.8Q577.6 586.2 583.6 591.8Q577.6 597.4 570.2 591.8Z" transform="rotate(43.0 570.2 591.8)"/><path d="M570.2 591.8Q577.6 586.2 583.6 591.8Q577.6 597.4 570.2 591.8Z" transform="rotate(88.0 570.2 591.8)"/><path d="M570.2 591.8Q577.6 586.2 583.6 591.8Q577.6 597.4 570.2 591.8Z" transform="rotate(133.0 570.2 591.8)"/><path d="M570.2 591.8Q577.6 586.2 583.6 591.8Q577.6 597.4 570.2 591.8Z" transform="rotate(178.0 570.2 591.8)"/><path d="M570.2 591.8Q577.6 586.2 583.6 591.8Q577.6 597.4 570.2 591.8Z" transform="rotate(223.0 570.2 591.8)"/><path d="M570.2 591.8Q577.6 586.2 583.6 591.8Q577.6 597.4 570.2 591.8Z" transform="rotate(268.0 570.2 591.8)"/><path d="M570.2 591.8Q577.6 586.2 583.6 591.8Q577.6 597.4 570.2 591.8Z" transform="rotate(313.0 570.2 591.8)"/></g>
<circle cx="570.2" cy="591.8" r="4.5" fill="#ffdf0a"/>
<g fill="#f39200" ><path d="M302.1 453.0L313.9 449.4A3.6 3.6 0 0 1 313.9 456.6Z" transform="rotate(8.0 300.1 453.0)"/><path d="M302.1 453.0L313.9 449.4A3.6 3.6 0 0 1 313.9 456.6Z" transform="rotate(44.0 300.1 453.0)"/><path d="M302.1 453.0L313.9 449.4A3.6 3.6 0 0 1 313.9 456.6Z" transform="rotate(80.0 300.1 453.0)"/><path d="M302.1 453.0L313.9 449.4A3.6 3.6 0 0 1 313.9 456.6Z" transform="rotate(116.0 300.1 453.0)"/><path d="M302.1 453.0L313.9 449.4A3.6 3.6 0 0 1 313.9 456.6Z" transform="rotate(152.0 300.1 453.0)"/><path d="M302.1 453.0L313.9 449.4A3.6 3.6 0 0 1 313.9 456.6Z" transform="rotate(188.0 300.1 453.0)"/><path d="M302.1 453.0L313.9 449.4A3.6 3.6 0 0 1 313.9 456.6Z" transform="rotate(224.0 300.1 453.0)"/><path d="M302.1 453.0L313.9 449.4A3.6 3.6 0 0 1 313.9 456.6Z" transform="rotate(260.0 300.1 453.0)"/><path d="M302.1 453.0L313.9 449.4A3.6 3.6 0 0 1 313.9 456.6Z" transform="rotate(296.0 300.1 453.0)"/><path d="M302.1 453.0L313.9 449.4A3.6 3.6 0 0 1 313.9 456.6Z" transform="rotate(332.0 300.1 453.0)"/></g>
<circle cx="300.1" cy="453" r="7.2" fill="#fde8dc"/>
<g fill="#f19aa0"><circle cx="301.0" cy="453.0" r="0.55"/><circle cx="299.0" cy="454.0" r="0.55"/><circle cx="300.3" cy="451.1" r="0.55"/><circle cx="301.5" cy="454.8" r="0.55"/><circle cx="297.5" cy="452.5" r="0.55"/><circle cx="302.5" cy="451.4" r="0.55"/><circle cx="299.3" cy="456.0" r="0.55"/><circle cx="298.5" cy="450.0" r="0.55"/><circle cx="303.5" cy="454.2" r="0.55"/><circle cx="296.6" cy="454.5" r="0.55"/><circle cx="301.8" cy="449.4" r="0.55"/><circle cx="301.4" cy="457.0" r="0.55"/><circle cx="296.3" cy="450.8" r="0.55"/><circle cx="304.5" cy="452.0" r="0.55"/><circle cx="297.4" cy="456.9" r="0.55"/><circle cx="299.5" cy="448.2" r="0.55"/><circle cx="303.9" cy="456.2" r="0.55"/><circle cx="294.9" cy="453.2" r="0.55"/><circle cx="303.9" cy="449.2" r="0.55"/><circle cx="299.8" cy="458.5" r="0.55"/><circle cx="296.5" cy="448.7" r="0.55"/><circle cx="305.8" cy="453.8" r="0.55"/></g>
<circle cx="434.9" cy="591.3" r="17.2" fill="#7b4189"/>
<g fill="#c8d400" ><path d="M437.4 591.3L447.3 588.4A2.9 2.9 0 0 1 447.3 594.2Z" transform="rotate(8.0 434.9 591.3)"/><path d="M437.4 591.3L447.3 588.4A2.9 2.9 0 0 1 447.3 594.2Z" transform="rotate(44.0 434.9 591.3)"/><path d="M437.4 591.3L447.3 588.4A2.9 2.9 0 0 1 447.3 594.2Z" transform="rotate(80.0 434.9 591.3)"/><path d="M437.4 591.3L447.3 588.4A2.9 2.9 0 0 1 447.3 594.2Z" transform="rotate(116.0 434.9 591.3)"/><path d="M437.4 591.3L447.3 588.4A2.9 2.9 0 0 1 447.3 594.2Z" transform="rotate(152.0 434.9 591.3)"/><path d="M437.4 591.3L447.3 588.4A2.9 2.9 0 0 1 447.3 594.2Z" transform="rotate(188.0 434.9 591.3)"/><path d="M437.4 591.3L447.3 588.4A2.9 2.9 0 0 1 447.3 594.2Z" transform="rotate(224.0 434.9 591.3)"/><path d="M437.4 591.3L447.3 588.4A2.9 2.9 0 0 1 447.3 594.2Z" transform="rotate(260.0 434.9 591.3)"/><path d="M437.4 591.3L447.3 588.4A2.9 2.9 0 0 1 447.3 594.2Z" transform="rotate(296.0 434.9 591.3)"/><path d="M437.4 591.3L447.3 588.4A2.9 2.9 0 0 1 447.3 594.2Z" transform="rotate(332.0 434.9 591.3)"/></g>
<g fill="#ee6352" ><path d="M980.5 453.3Q991.4 445.7 1000.3 453.3Q991.4 460.9 980.5 453.3Z" transform="rotate(-2.0 980.5 453.3)"/><path d="M980.5 453.3Q991.4 445.7 1000.3 453.3Q991.4 460.9 980.5 453.3Z" transform="rotate(43.0 980.5 453.3)"/><path d="M980.5 453.3Q991.4 445.7 1000.3 453.3Q991.4 460.9 980.5 453.3Z" transform="rotate(88.0 980.5 453.3)"/><path d="M980.5 453.3Q991.4 445.7 1000.3 453.3Q991.4 460.9 980.5 453.3Z" transform="rotate(133.0 980.5 453.3)"/><path d="M980.5 453.3Q991.4 445.7 1000.3 453.3Q991.4 460.9 980.5 453.3Z" transform="rotate(178.0 980.5 453.3)"/><path d="M980.5 453.3Q991.4 445.7 1000.3 453.3Q991.4 460.9 980.5 453.3Z" transform="rotate(223.0 980.5 453.3)"/><path d="M980.5 453.3Q991.4 445.7 1000.3 453.3Q991.4 460.9 980.5 453.3Z" transform="rotate(268.0 980.5 453.3)"/><path d="M980.5 453.3Q991.4 445.7 1000.3 453.3Q991.4 460.9 980.5 453.3Z" transform="rotate(313.0 980.5 453.3)"/></g>
<circle cx="980.5" cy="453.3" r="6.5" fill="#ee6352"/>
<g fill="#ee6352" ><circle cx="842.2" cy="589.6" r="11.5"/><circle cx="853.0" cy="591.9" r="6.6"/><circle cx="848.2" cy="598.8" r="6.6"/><circle cx="839.9" cy="600.4" r="6.6"/><circle cx="833.0" cy="595.6" r="6.6"/><circle cx="831.4" cy="587.3" r="6.6"/><circle cx="836.2" cy="580.4" r="6.6"/><circle cx="844.5" cy="578.8" r="6.6"/><circle cx="851.4" cy="583.6" r="6.6"/></g>
<circle cx="841.6" cy="590" r="3.4" fill="#f6b0a6"/><circle cx="841.6" cy="590" r="1.6" fill="#fbe3dc"/>
<path d="M1246.6 570C1246 610 1240 680 1228 737" fill="none" stroke="#fff" stroke-width="3.6" stroke-linecap="round" stroke-linejoin="round" />
<ellipse cx="1243" cy="551.5" rx="10.5" ry="20.5" fill="#fff" transform="rotate(-4 1243 551.5)"/>
<ellipse cx="1232.2" cy="595.2" rx="17.9" ry="9.3" transform="rotate(37.0 1232.2 595.2)" fill="#fff" />
<ellipse cx="1262.0" cy="595.3" rx="19.1" ry="9.3" transform="rotate(-27.1 1262.0 595.3)" fill="#fff" />
<ellipse cx="1226.5" cy="643.8" rx="19.6" ry="9.3" transform="rotate(29.8 1226.5 643.8)" fill="#fff" />
<ellipse cx="1261.2" cy="642.8" rx="21.4" ry="9.8" transform="rotate(-25.7 1261.2 642.8)" fill="#fff" />
<ellipse cx="1221.0" cy="690.0" rx="20.8" ry="9.3" transform="rotate(30.3 1221.0 690.0)" fill="#fff" />
<ellipse cx="1252.5" cy="694.1" rx="17.0" ry="9.3" transform="rotate(-24.0 1252.5 694.1)" fill="#fff" />
</g>
<g class="date">
<text x="368.85" y="122.00" text-anchor="middle">20.2.</text>
<text x="505.35" y="122.00" text-anchor="middle">21.2.</text>
<text x="95.85" y="258.50" text-anchor="middle">23.2.</text>
<text x="232.35" y="258.50" text-anchor="middle">24.2.</text>
<text x="368.85" y="258.50" text-anchor="middle">25.2.</text>
<text x="778.35" y="258.50" text-anchor="middle">26.2.</text>
<text x="914.85" y="258.50" text-anchor="middle">27.2.</text>
<text x="1051.35" y="258.50" text-anchor="middle">28.2.</text>
<text x="232.35" y="395.00" text-anchor="middle">2.3.</text>
<text x="368.85" y="395.00" text-anchor="middle">3.3.</text>
<text x="778.35" y="395.00" text-anchor="middle">4.3.</text>
<text x="914.85" y="395.00" text-anchor="middle">5.3.</text>
<text x="1051.35" y="395.00" text-anchor="middle">6.3.</text>
<text x="1187.85" y="395.00" text-anchor="middle">7.3.</text>
<text x="232.35" y="531.50" text-anchor="middle">8.3.</text>
<text x="368.85" y="531.50" text-anchor="middle">9.3.</text>
<text x="505.35" y="531.50" text-anchor="middle">10.3.</text>
<text x="641.85" y="531.50" text-anchor="middle">11.3.</text>
<text x="778.35" y="531.50" text-anchor="middle">12.3.</text>
<text x="914.85" y="531.50" text-anchor="middle">13.3.</text>
<text x="1051.35" y="531.50" text-anchor="middle">14.3.</text>
<text x="368.85" y="668.00" text-anchor="middle">15.3.</text>
<text x="505.35" y="668.00" text-anchor="middle">16.3.</text>
<text x="641.85" y="668.00" text-anchor="middle">17.3.</text>
<text x="778.35" y="668.00" text-anchor="middle">18.3.</text>
<text x="914.85" y="668.00" text-anchor="middle">19.3.</text>
</g>
<g id="footer">
<rect x="0" y="761" width="1280" height="110" fill="#fff"/>
<text x="26.2" y="784.8" font-size="7.4" fill="#3a3a3a" font-weight="700" textLength="60.3" lengthAdjust="spacingAndGlyphs" >Organisiert von:</text>
<g fill="none" stroke="#1f4f7d" stroke-linecap="round"><ellipse cx="52" cy="814.3" rx="21.5" ry="14.6" transform="rotate(-12 52 814.3)" stroke-width="1.3"/><path d="M48.4 796.5L51.5 831.5" stroke-width="1"/><path d="M40 800.5C35 808 36 822 43 829" stroke-width="1"/><path d="M58 798.5C65 806 66 820 59 828.5" stroke-width="1"/><path d="M33 805C30 812 32 822 37 826" stroke-width="0.9"/><path d="M66 801C72 808 72 818 67 824" stroke-width="1.6"/><path d="M31 812C44 810 60 807 72 803" stroke-width="1.2"/><path d="M32 820C46 818 62 815 73 811" stroke-width="1.2"/><path d="M36 805C46 803 58 801 66 799" stroke-width="0.9"/><path d="M27.5 815.5C28 810 44 803 62 801C74 800 83 801 86 803.5" stroke-width="1.6"/><path d="M27.5 815.5C30 822 50 822 66 817C72 815 76 812 76 810" stroke-width="1.6"/><path d="M30 824C42 828 60 824 72 816" stroke-width="1.2"/></g>
<text x="82.5" y="814.5" font-size="7.1" fill="#2c4768" textLength="62" lengthAdjust="spacingAndGlyphs" >UNTERNEHMER</text>
<text x="82.5" y="822.6" font-size="7.1" fill="#2c4768" textLength="62" lengthAdjust="spacingAndGlyphs" >OHNE GRENZEN</text>
<text x="82.5" y="831.8" font-size="3.3" fill="#3f6c9c" textLength="61.6" lengthAdjust="spacingAndGlyphs" >WIRTSCHAFT | ARBEIT | BILDUNG</text>
<text x="161" y="821.8" font-size="13.4" fill="#1b2550" font-weight="700" textLength="49" lengthAdjust="spacingAndGlyphs" >LOKAL</text>
<text x="214.1" y="821.8" font-size="13.4" fill="#e63c3a" font-weight="700" textLength="45.1" lengthAdjust="spacingAndGlyphs" >AKTIV</text>
<circle cx="174.9" cy="811" r="2.7" fill="#fff" stroke="#e63c3a" stroke-width="1.5"/>
<path d="M173.3 814.2L174.9 817.6L176.5 814.2Z" fill="#e63c3a"/>
<text x="160.8" y="831.1" font-size="4.8" fill="#444" textLength="99" lengthAdjust="spacingAndGlyphs" >QUALIFIZIERUNG UND VERNETZUNG</text>
<text x="277.7" y="785.2" font-size="7.6" fill="#333" font-weight="700" textLength="119" lengthAdjust="spacingAndGlyphs" >Unternehmer ohne Grenzen e.V.</text>
<text x="277.7" y="795.7" font-size="7.4" fill="#808080" textLength="91.2" lengthAdjust="spacingAndGlyphs" >Billstedter Hauptstraße 76</text>
<text x="277.7" y="804.8" font-size="7.4" fill="#808080" textLength="117" lengthAdjust="spacingAndGlyphs" >(durch den Eingang von Haus 78)</text>
<text x="277.7" y="813" font-size="7.4" fill="#808080" textLength="57.5" lengthAdjust="spacingAndGlyphs" >22111 Hamburg</text>
<text x="277.7" y="824.3" font-size="7.4" fill="#808080" textLength="124.3" lengthAdjust="spacingAndGlyphs" >Ansprechpartner: Anas Alagol-Korff</text>
<text x="277.7" y="833" font-size="7.4" fill="#808080" textLength="72" lengthAdjust="spacingAndGlyphs" >Tel. 0155 68 13 45 80</text>
<text x="277.7" y="841.9" font-size="7.4" fill="#808080" textLength="87.3" lengthAdjust="spacingAndGlyphs" >a.alagol-korff@uog-ev.de</text>
<text x="277.7" y="850.5" font-size="7.4" fill="#808080" textLength="54.3" lengthAdjust="spacingAndGlyphs" >www.uog-ev.de</text>
<text x="430.3" y="785.2" font-size="7.1" fill="#808080" textLength="74.5" lengthAdjust="spacingAndGlyphs" >Der Aktions-Kalender</text>
<text x="430.3" y="793.6" font-size="7.1" fill="#808080" textLength="85.5" lengthAdjust="spacingAndGlyphs" >zum Ramadan 2026 wird</text>
<text x="430.3" y="802" font-size="7.1" fill="#808080" textLength="64.7" lengthAdjust="spacingAndGlyphs" >gefördert aus dem</text>
<text x="430.3" y="811" font-size="7.1" fill="#808080" textLength="77.6" lengthAdjust="spacingAndGlyphs" >RISE-Verfügungsfonds</text>
<text x="430.3" y="819.4" font-size="7.1" fill="#808080" textLength="81.6" lengthAdjust="spacingAndGlyphs" >des Sanierungsbeirates</text>
<text x="430.3" y="827.8" font-size="7.1" fill="#808080" textLength="61.2" lengthAdjust="spacingAndGlyphs" >Billstedt-Zentrum.</text>
<text x="569.6" y="784.3" font-size="6.9" fill="#808080" textLength="399.4" lengthAdjust="spacingAndGlyphs" style="white-space:pre">Das Projekt „LokalAktiv“ wird von der Europäischen Union  und von der Freien und Hansestadt Hamburg finanziert.</text>
<rect x="569.3" y="807.6" width="54.7" height="36.1" fill="#003399"/>
<g fill="#ffcc00"><polygon points="596.65,811.25 597.21,812.88 598.93,812.91 597.55,813.94 598.06,815.59 596.65,814.60 595.24,815.59 595.75,813.94 594.37,812.91 596.09,812.88"/><polygon points="602.65,812.86 603.21,814.49 604.93,814.52 603.55,815.55 604.06,817.20 602.65,816.21 601.24,817.20 601.75,815.55 600.37,814.52 602.09,814.49"/><polygon points="607.04,817.25 607.60,818.88 609.32,818.91 607.95,819.94 608.45,821.59 607.04,820.60 605.63,821.59 606.14,819.94 604.76,818.91 606.48,818.88"/><polygon points="608.65,823.25 609.21,824.88 610.93,824.91 609.55,825.94 610.06,827.59 608.65,826.60 607.24,827.59 607.75,825.94 606.37,824.91 608.09,824.88"/><polygon points="607.04,829.25 607.60,830.88 609.32,830.91 607.95,831.94 608.45,833.59 607.04,832.60 605.63,833.59 606.14,831.94 604.76,830.91 606.48,830.88"/><polygon points="602.65,833.64 603.21,835.27 604.93,835.30 603.55,836.34 604.06,837.98 602.65,836.99 601.24,837.98 601.75,836.34 600.37,835.30 602.09,835.27"/><polygon points="596.65,835.25 597.21,836.88 598.93,836.91 597.55,837.94 598.06,839.59 596.65,838.60 595.24,839.59 595.75,837.94 594.37,836.91 596.09,836.88"/><polygon points="590.65,833.64 591.21,835.27 592.93,835.30 591.55,836.34 592.06,837.98 590.65,836.99 589.24,837.98 589.75,836.34 588.37,835.30 590.09,835.27"/><polygon points="586.26,829.25 586.82,830.88 588.54,830.91 587.16,831.94 587.67,833.59 586.26,832.60 584.85,833.59 585.35,831.94 583.98,830.91 585.70,830.88"/><polygon points="584.65,823.25 585.21,824.88 586.93,824.91 585.55,825.94 586.06,827.59 584.65,826.60 583.24,827.59 583.75,825.94 582.37,824.91 584.09,824.88"/><polygon points="586.26,817.25 586.82,818.88 588.54,818.91 587.16,819.94 587.67,821.59 586.26,820.60 584.85,821.59 585.35,819.94 583.98,818.91 585.70,818.88"/><polygon points="590.65,812.86 591.21,814.49 592.93,814.52 591.55,815.55 592.06,817.20 590.65,816.21 589.24,817.20 589.75,815.55 588.37,814.52 590.09,814.49"/></g>
<text x="631.2" y="821.7" font-size="9.2" fill="#222" textLength="85.2" lengthAdjust="spacingAndGlyphs" >Kofinanziert von der</text>
<text x="631.2" y="836.2" font-size="13" fill="#222" textLength="147.4" lengthAdjust="spacingAndGlyphs" >EUROPÄISCHEN UNION</text>
<path d="M944.9 817.2L957.2 817.2L958 824.6L953 824.6L953 821.5C953 819 949 819 949 821.5L949 824.6L944.1 824.6Z" fill="#e30613"/>
<rect x="944.3" y="815.9" width="13.5" height="0.9" fill="#e30613"/>
<rect x="945.3" y="810.6" width="2.6" height="5.6" fill="#e30613"/><rect x="954.1" y="810.6" width="2.6" height="5.6" fill="#e30613"/>
<path d="M949.1 816.2L949.1 811L950.9 808L952.8 811L952.8 816.2Z" fill="#e30613"/>
<circle cx="946.6" cy="809.8" r="0.7" fill="#e30613"/><circle cx="955.4" cy="809.8" r="0.7" fill="#e30613"/><circle cx="950.9" cy="807.8" r="0.8" fill="#e30613"/>
<path d="M922.3 825C928 822.5 936 823 942 825C948 827 956 827.5 964.6 825" fill="none" stroke="#3f7db8" stroke-width="1"/>
<text x="921.7" y="841.7" font-size="11.9" fill="#333" textLength="53.3" lengthAdjust="spacingAndGlyphs" >Hamburg</text>
</g>
<g id="circle">
<circle cx="1104" cy="745.7" r="116.7" fill="#ec6354"/>
<text x="1103.6" y="669.1" text-anchor="middle" font-size="16" font-weight="700" fill="#fff" textLength="92.2" lengthAdjust="spacingAndGlyphs">Entdecken</text>
<text x="1103.6" y="690.3" text-anchor="middle" font-size="16" font-weight="700" fill="#fff" textLength="160.6" lengthAdjust="spacingAndGlyphs">Sie den passenden</text>
<text x="1103.6" y="710.8" text-anchor="middle" font-size="16" font-weight="700" fill="#fff" textLength="115.4" lengthAdjust="spacingAndGlyphs">Ramadan Tag</text>
<text x="1103.6" y="731.4" text-anchor="middle" font-size="16" font-weight="700" fill="#fff" textLength="170.5" lengthAdjust="spacingAndGlyphs">und statten Sie dem</text>
<text x="1103.6" y="751.9" text-anchor="middle" font-size="16" font-weight="700" fill="#fff" textLength="171.5" lengthAdjust="spacingAndGlyphs">jeweiligen Geschäft</text>
<text x="1103.6" y="772.5" text-anchor="middle" font-size="16" font-weight="700" fill="#fff" textLength="146.3" lengthAdjust="spacingAndGlyphs">einen Besuch ab.</text>
<text x="1103.6" y="796.1" text-anchor="middle" font-size="14.6" font-weight="700" fill="#fff" textLength="128" lengthAdjust="spacingAndGlyphs">Eine wunderbare</text>
<text x="1103.6" y="814.8" text-anchor="middle" font-size="14.6" font-weight="700" fill="#fff" textLength="157.5" lengthAdjust="spacingAndGlyphs">Überraschung wartet</text>
<text x="1103.6" y="833.5" text-anchor="middle" font-size="14.6" font-weight="700" fill="#fff" textLength="57.5" lengthAdjust="spacingAndGlyphs">auf Sie!</text>
<g fill="#ffdf0a" ><ellipse cx="1242.7" cy="766.3" rx="15.8" ry="9.0" transform="rotate(-5.0 1223.9 766.3)"/><ellipse cx="1242.7" cy="766.3" rx="15.8" ry="9.0" transform="rotate(40.0 1223.9 766.3)"/><ellipse cx="1242.7" cy="766.3" rx="15.8" ry="9.0" transform="rotate(85.0 1223.9 766.3)"/><ellipse cx="1242.7" cy="766.3" rx="15.8" ry="9.0" transform="rotate(130.0 1223.9 766.3)"/><ellipse cx="1242.7" cy="766.3" rx="15.8" ry="9.0" transform="rotate(175.0 1223.9 766.3)"/><ellipse cx="1242.7" cy="766.3" rx="15.8" ry="9.0" transform="rotate(220.0 1223.9 766.3)"/><ellipse cx="1242.7" cy="766.3" rx="15.8" ry="9.0" transform="rotate(265.0 1223.9 766.3)"/><ellipse cx="1242.7" cy="766.3" rx="15.8" ry="9.0" transform="rotate(310.0 1223.9 766.3)"/></g>
<circle cx="1223.9" cy="766.5" r="12.9" fill="#fdefd6"/>
<g fill="#ea6a5c"><circle cx="1225.0" cy="766.5" r="0.85"/><circle cx="1222.5" cy="767.8" r="0.85"/><circle cx="1224.1" cy="764.0" r="0.85"/><circle cx="1225.7" cy="768.8" r="0.85"/><circle cx="1220.6" cy="765.9" r="0.85"/><circle cx="1227.0" cy="764.5" r="0.85"/><circle cx="1222.9" cy="770.3" r="0.85"/><circle cx="1221.9" cy="762.7" r="0.85"/><circle cx="1228.2" cy="768.1" r="0.85"/><circle cx="1219.5" cy="768.3" r="0.85"/><circle cx="1226.0" cy="761.9" r="0.85"/><circle cx="1225.5" cy="771.5" r="0.85"/><circle cx="1219.1" cy="763.7" r="0.85"/><circle cx="1229.5" cy="765.3" r="0.85"/><circle cx="1220.5" cy="771.4" r="0.85"/><circle cx="1223.1" cy="760.4" r="0.85"/><circle cx="1228.7" cy="770.6" r="0.85"/><circle cx="1217.4" cy="766.8" r="0.85"/><circle cx="1228.7" cy="761.8" r="0.85"/><circle cx="1223.6" cy="773.4" r="0.85"/><circle cx="1219.4" cy="761.1" r="0.85"/><circle cx="1231.1" cy="767.5" r="0.85"/><circle cx="1217.8" cy="770.7" r="0.85"/><circle cx="1225.6" cy="759.1" r="0.85"/><circle cx="1227.7" cy="773.2" r="0.85"/><circle cx="1216.4" cy="764.1" r="0.85"/><circle cx="1231.2" cy="763.1" r="0.85"/><circle cx="1220.7" cy="774.0" r="0.85"/><circle cx="1221.1" cy="758.7" r="0.85"/><circle cx="1231.4" cy="770.4" r="0.85"/><circle cx="1215.6" cy="768.7" r="0.85"/><circle cx="1228.6" cy="759.1" r="0.85"/><circle cx="1225.4" cy="775.3" r="0.85"/><circle cx="1216.8" cy="761.0" r="0.85"/><circle cx="1233.0" cy="765.7" r="0.85"/><circle cx="1217.6" cy="773.3" r="0.85"/><circle cx="1223.9" cy="757.1" r="0.85"/><circle cx="1230.3" cy="773.6" r="0.85"/><circle cx="1214.3" cy="765.6" r="0.85"/><circle cx="1231.7" cy="760.6" r="0.85"/><circle cx="1222.1" cy="776.3" r="0.85"/><circle cx="1218.6" cy="758.0" r="0.85"/><circle cx="1233.7" cy="769.2" r="0.85"/><circle cx="1214.8" cy="771.2" r="0.85"/><circle cx="1227.5" cy="756.7" r="0.85"/><circle cx="1227.9" cy="776.2" r="0.85"/><circle cx="1214.3" cy="761.9" r="0.85"/><circle cx="1234.2" cy="763.3" r="0.85"/></g>
</g>
</svg>
</body>
</html>
